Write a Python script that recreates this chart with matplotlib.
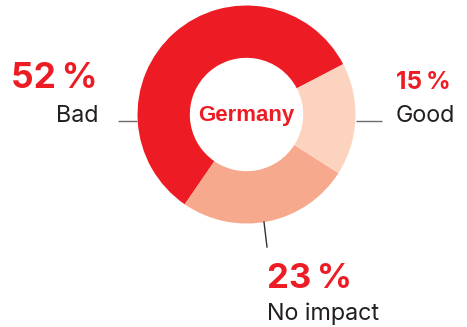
import matplotlib
matplotlib.use("Agg")
import matplotlib.pyplot as plt

# Survey shares for Germany
categories = ["Bad", "No impact", "Good"]
shares = [52, 23, 15]
colors = ["#ED1C24", "#F7A98E", "#FBD3BF"]

W, H = 467, 327
fig = plt.figure(figsize=(W / 100, H / 100), dpi=100)
ax = fig.add_axes([0, 0, 1, 1])

cx, cy, r = 246.5, H - 114.5, 109
ax.pie(shares, colors=colors, startangle=27.5, counterclock=True,
       center=(cx, cy), radius=r, frame=True,
       wedgeprops=dict(width=r * 0.48, linewidth=0))
ax.set_xlim(0, W)
ax.set_ylim(0, H)
ax.set_aspect("equal")
ax.axis("off")

red = "#ED1C24"
dark = "#231F20"
fam = ["Inter", "DejaVu Sans"]

ax.text(cx, cy - 6, "Germany", ha="center", va="baseline", color=red,
        fontsize=16, fontweight="bold", family=["Liberation Sans", "DejaVu Sans"])

# leader lines
line_kw = dict(color="#6d6d6d", lw=1.0, solid_capstyle="butt")
ax.plot([118, 137], [H - 120.5, H - 120.5], **line_kw)
ax.plot([356, 382], [H - 120.5, H - 120.5], **line_kw)
ax.plot([264, 267], [H - 222, H - 247], color="#333333", lw=1.0)

# Bad
ax.text(98, H - 88, f"{shares[0]}\u2009%", ha="right", va="baseline", color=red,
        fontsize=25.5, fontweight="bold", family=fam)
ax.text(98, H - 121.5, categories[0], ha="right", va="baseline", color=dark,
        fontsize=16.8, family=fam)
# Good
ax.text(396, H - 89, f"{shares[2]}\u2009%", ha="left", va="baseline", color=red,
        fontsize=17.5, fontweight="bold", family=fam)
ax.text(396, H - 122.5, categories[2], ha="left", va="baseline", color=dark,
        fontsize=16.8, family=fam)
# No impact
ax.text(267, H - 288, f"{shares[1]}\u2009%", ha="left", va="baseline", color=red,
        fontsize=25, fontweight="bold", family=fam)
ax.text(267, H - 320, categories[1], ha="left", va="baseline", color=dark,
        fontsize=16.8, family=fam)

fig.savefig("out.png", dpi=100)
